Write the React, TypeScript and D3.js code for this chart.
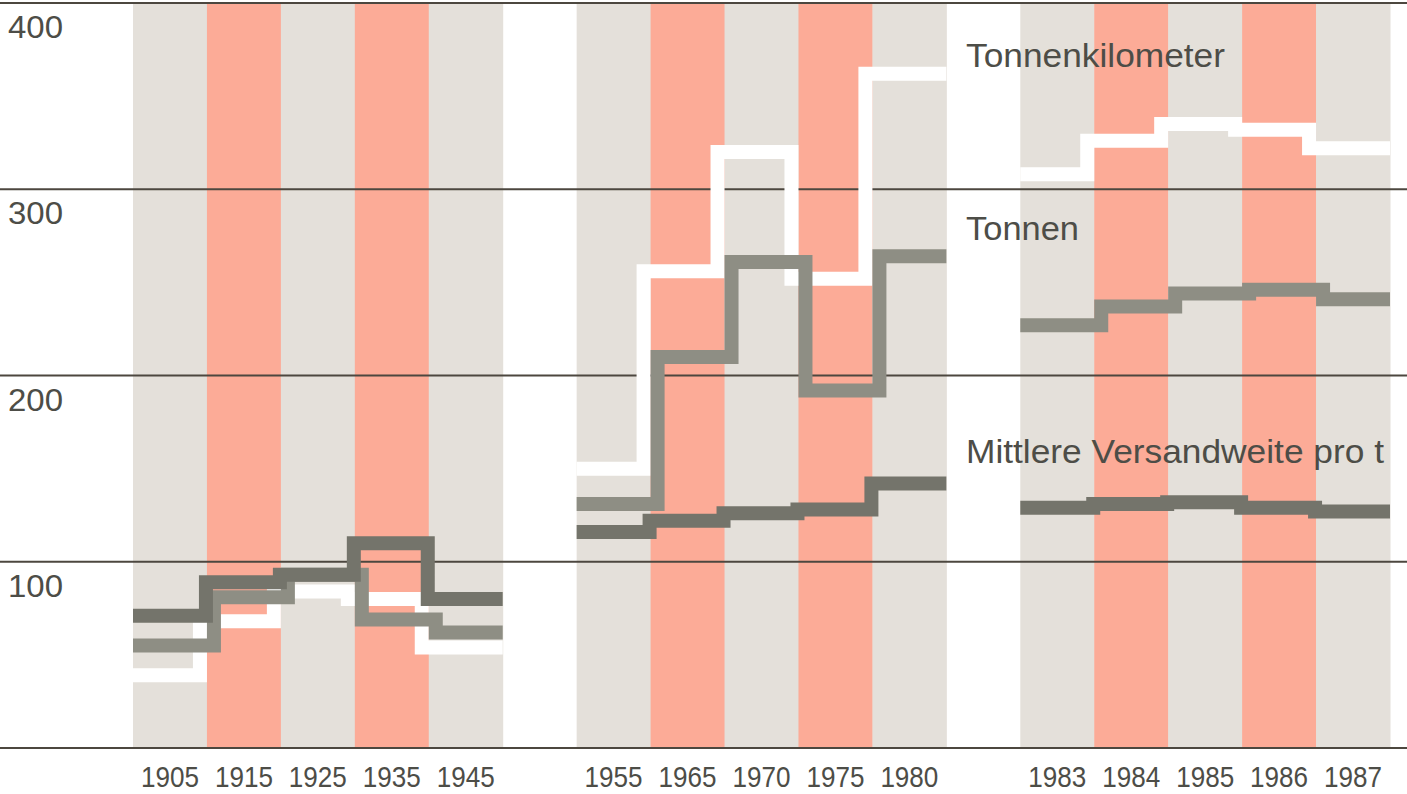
import React from "react";
import * as d3 from "d3";

// columns, grouped in three blocks
const years1 = ["1905", "1915", "1925", "1935", "1945"];
const years2 = ["1955", "1965", "1970", "1975", "1980"];
const years3 = ["1983", "1984", "1985", "1986", "1987"];

// Tonnenkilometer (white)
const tkm1 = [39, 68, 84, 80, 54];
const tkm2 = [150, 256, 320, 252, 362];
const tkm3 = [308, 326, 335, 332, 322];

// Tonnen
const tonnen1 = [55, 81, 93, 69, 62];
const tonnen2 = [131, 210, 261, 192, 264];
const tonnen3 = [227, 237, 244, 246, 241];

// Mittlere Versandweite pro t
const weite1 = [71, 89, 93, 110, 80];
const weite2 = [116, 122, 126, 128, 142];
const weite3 = [129, 131, 132, 129, 127];

const yTicks = [100, 200, 300, 400];
const gridValues = [0, 100, 200, 300, 400];

const seriesLabels = ["Tonnenkilometer", "Tonnen", "Mittlere Versandweite pro t"];

const width = 1407;
const height = 794;

const groups = [years1, years2, years3];
const slots = [...years1, "gap1", ...years2, "gap2", ...years3];

const FONT = "'Liberation Sans', Arial, Helvetica, sans-serif";

export default function App() {
  const x = d3.scaleBand<string>().domain(slots).range([133, 1390]).padding(0);
  const y = d3.scaleLinear().domain([0, 400]).range([748, 3]);
  const bw = x.bandwidth();

  const series = [
    { name: "tkm", data: [tkm1, tkm2, tkm3], color: "#ffffff", offset: -7 },
    { name: "tonnen", data: [tonnen1, tonnen2, tonnen3], color: "#8e8e84", offset: 7 },
    { name: "weite", data: [weite1, weite2, weite3], color: "#74746b", offset: -1 },
  ];

  const line = d3.line<[number, number]>();

  // step path through one block
  const stepPath = (yrs: string[], vals: number[], offset: number) => {
    const pts: [number, number][] = [];
    pts.push([x(yrs[0])!, y(vals[0])]);
    for (let i = 1; i < vals.length; i++) {
      const xb = x(yrs[i])! + offset;
      pts.push([xb, y(vals[i - 1])]);
      pts.push([xb, y(vals[i])]);
    }
    pts.push([x(yrs[yrs.length - 1])! + bw, y(vals[vals.length - 1])]);
    return line(pts) ?? "";
  };

  const labelY = [67, 240, 463];
  const labelW = [259, 113, 418];

  return (
    <svg
      width={width}
      height={height}
      style={{ position: "absolute", left: 0, top: 0, background: "#fff" }}
    >
      {/* columns */}
      {groups.map((g) =>
        g.map((yr, i) => (
          <rect
            key={yr}
            x={x(yr)}
            y={y(400)}
            width={bw + 0.5}
            height={y(0) - y(400)}
            fill={i % 2 === 0 ? "#e4e0da" : "#fcab97"}
          />
        ))
      )}

      {/* gridlines */}
      {gridValues.map((v) => (
        <line
          key={v}
          x1={0}
          x2={width}
          y1={y(v)}
          y2={y(v)}
          stroke="#4c473f"
          strokeWidth={2}
        />
      ))}

      {/* y tick labels */}
      {yTicks.map((v) => (
        <text
          key={v}
          x={8}
          y={y(v) + 35}
          fontFamily={FONT}
          fontSize={32}
          textLength={55}
          lengthAdjust="spacingAndGlyphs"
          fill="#4d4d47"
        >
          {v}
        </text>
      ))}

      {/* step lines */}
      {series.map((s) =>
        groups.map((g, gi) => (
          <path
            key={s.name + gi}
            d={stepPath(g, s.data[gi], s.offset)}
            fill="none"
            stroke={s.color}
            strokeWidth={14}
            strokeLinecap="butt"
            strokeLinejoin="miter"
          />
        ))
      )}

      {/* year labels */}
      {groups.flat().map((yr) => (
        <text
          key={"l" + yr}
          x={x(yr)! + bw / 2}
          y={787}
          textAnchor="middle"
          fontFamily={FONT}
          fontSize={30}
          textLength={58}
          lengthAdjust="spacingAndGlyphs"
          fill="#4d4d47"
        >
          {yr}
        </text>
      ))}

      {/* series labels */}
      {seriesLabels.map((t, i) => (
        <text
          key={t}
          x={966}
          y={labelY[i]}
          fontFamily={FONT}
          fontSize={33}
          textLength={labelW[i]}
          lengthAdjust="spacingAndGlyphs"
          fill="#4d4d47"
        >
          {t}
        </text>
      ))}
    </svg>
  );
}
